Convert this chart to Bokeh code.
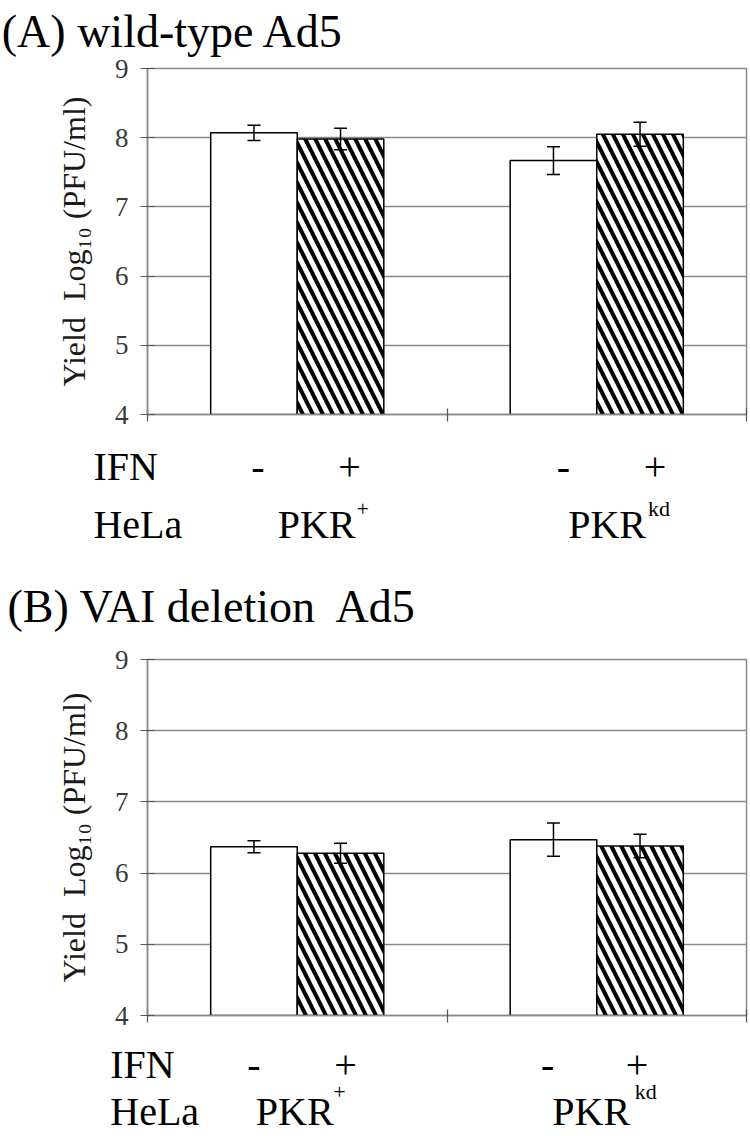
from bokeh.plotting import figure
from bokeh.layouts import column
from bokeh.models import (Range1d, FixedTicker, Whisker, TeeHead, ColumnDataSource,
                          LinearAxis)
from bokeh.embed import file_html
from bokeh.resources import INLINE

# ---------------- data ----------------
cell_lines = ["PKR", "PKR"]
cell_sup = ["+", "kd"]
ifn_marks = ["-", "+"]
y_ticks = [4, 5, 6, 7, 8, 9]

wt_ifn_minus = [8.07, 7.67]
wt_ifn_plus = [7.98, 8.05]
wt_err_minus = [0.11, 0.20]
wt_err_plus = [0.155, 0.175]

vai_ifn_minus = [6.37, 6.47]
vai_ifn_plus = [6.28, 6.38]
vai_err_minus = [0.085, 0.235]
vai_err_plus = [0.14, 0.165]

SERIF = "Liberation Serif"
GRID = "#8a8a8a"
NB = "\u00a0"
W = 750


def text_axis(ticks, texts, standoff, size):
    ax = LinearAxis(ticker=FixedTicker(ticks=ticks),
                    major_label_overrides={t: s for t, s in zip(ticks, texts)},
                    axis_line_color=None, major_tick_line_color=None,
                    minor_tick_line_color=None, major_tick_in=0, major_tick_out=0,
                    major_label_standoff=standoff, major_label_text_font=SERIF,
                    major_label_text_font_size=size, major_label_text_color="black")
    return ax


def make_panel(title, minus, plus, err_minus, err_plus, g):
    p = figure(width=W, height=g["height"], output_backend="svg", toolbar_location=None,
               x_range=Range1d(0, 2), y_range=Range1d(4, 9),
               min_border_left=g["left"], min_border_right=g["right"],
               min_border_top=g["top"], min_border_bottom=g["bottom"],
               background_fill_color="white", border_fill_color="white")
    p.outline_line_color = GRID
    p.outline_line_width = 1.5
    unit = (W - g["left"] - g["right"]) / 2.0

    # y axis
    p.yaxis.ticker = FixedTicker(ticks=y_ticks)
    p.yaxis.axis_line_color = GRID
    p.yaxis.axis_line_width = 1.5
    p.yaxis.major_tick_line_color = "#555555"
    p.yaxis.major_tick_line_width = 1.2
    p.yaxis.major_tick_in = 7
    p.yaxis.major_tick_out = 7
    p.yaxis.minor_tick_line_color = None
    p.yaxis.major_label_text_font = SERIF
    p.yaxis.major_label_text_font_size = "27px"
    p.yaxis.major_label_text_color = "#3a3a3a"
    p.yaxis.major_label_standoff = 12
    p.yaxis.axis_label = "Yield" + NB + " Log\u2081\u2080 (PFU/ml)"
    p.yaxis.axis_label_text_font = SERIF
    p.yaxis.axis_label_text_font_style = "normal"
    p.yaxis.axis_label_text_font_size = "32px"
    p.yaxis.axis_label_text_color = "#1a1a1a"
    p.yaxis.axis_label_standoff = 20

    # x axis (ticks only)
    p.xaxis.ticker = FixedTicker(ticks=[0, 1, 2])
    p.xaxis.axis_line_color = GRID
    p.xaxis.axis_line_width = 1.5
    p.xaxis.major_tick_line_color = "#555555"
    p.xaxis.major_tick_line_width = 1.2
    p.xaxis.major_tick_in = 6
    p.xaxis.major_tick_out = 7
    p.xaxis.minor_tick_line_color = None
    p.xaxis.major_label_text_color = None

    p.xgrid.grid_line_color = None
    p.ygrid.ticker = FixedTicker(ticks=y_ticks)
    p.ygrid.grid_line_color = GRID
    p.ygrid.grid_line_width = 1.5

    # bars
    bar_w = 0.289
    centers = [i + 0.5 for i in range(len(minus))]
    x_minus = [c - bar_w / 2 for c in centers]
    x_plus = [c + bar_w / 2 for c in centers]

    p.vbar(x=x_minus, top=minus, bottom=4, width=bar_w, fill_color="white",
           line_color="black", line_width=1.5)
    p.vbar(x=x_plus, top=plus, bottom=4, width=bar_w, fill_color="white",
           line_color="black", line_width=1.5, hatch_pattern="\\",
           hatch_color="black", hatch_scale=20, hatch_weight=4)

    # error bars
    xs = x_minus + x_plus
    ms = list(minus) + list(plus)
    es = list(err_minus) + list(err_plus)
    src = ColumnDataSource(dict(x=xs, upper=[m + e for m, e in zip(ms, es)],
                                lower=[m - e for m, e in zip(ms, es)]))
    w = Whisker(base="x", upper="upper", lower="lower", source=src, level="overlay",
                line_color="black", line_width=1.5,
                upper_head=TeeHead(size=13, line_color="black", line_width=1.5),
                lower_head=TeeHead(size=13, line_color="black", line_width=1.5))
    p.add_layout(w)

    # panel title (as a label row above the frame)
    p.add_layout(text_axis([g["title_cx"] / unit], [title], g["title_so"], "46px"), "above")

    # IFN row
    t_ifn = [g["ifn_cx"] / unit]
    s_ifn = ["IFN" + NB * 5]
    for i in range(len(centers)):
        t_ifn += [x_minus[i] + g["minus_dx"][i] / unit, x_plus[i] + g["plus_dx"][i] / unit]
        s_ifn += ifn_marks
    p.add_layout(text_axis(t_ifn, s_ifn, g["ifn_so"], "40px"), "below")

    # superscripts of cell lines
    t_sup = [centers[i] + g["sup_dx"][i] / unit for i in range(len(centers))]
    p.add_layout(text_axis(t_sup, cell_sup, g["sup_so"], "22px"), "below")

    # HeLa row
    t_hela = [g["hela_cx"] / unit] + [centers[i] + g["pkr_dx"][i] / unit for i in range(len(centers))]
    s_hela = ["HeLa" + NB * 2] + cell_lines
    p.add_layout(text_axis(t_hela, s_hela, g["hela_so"], "40px"), "below")
    return p


geom_a = dict(height=575, left=147, right=1, top=68, bottom=161, title_so=12, title_cx=23,
              ifn_cx=3.2, hela_cx=0.4, minus_dx=[4, 10], plus_dx=[9, 15],
              pkr_dx=[19.4, 10.4], sup_dx=[65.7, 62.5],
              ifn_so=22, sup_so=4, hela_so=-22)
geom_b = dict(height=561, left=140, right=4, top=84, bottom=120, title_so=28, title_cx=66,
              ifn_cx=20.2, hela_cx=17.4, minus_dx=[0, -6], plus_dx=[5, -3],
              pkr_dx=[-2.6, -5.6], sup_dx=[42.7, 49.5],
              ifn_so=19, sup_so=-11, hela_so=-18)

pa = make_panel("(A) wild-type Ad5", wt_ifn_minus, wt_ifn_plus, wt_err_minus, wt_err_plus, geom_a)
pb = make_panel("(B) VAI deletion" + NB + " Ad5", vai_ifn_minus, vai_ifn_plus, vai_err_minus,
                vai_err_plus, geom_b)

layout = column(pa, pb, spacing=0)
open("out.html", "w").write(file_html(layout, INLINE))
